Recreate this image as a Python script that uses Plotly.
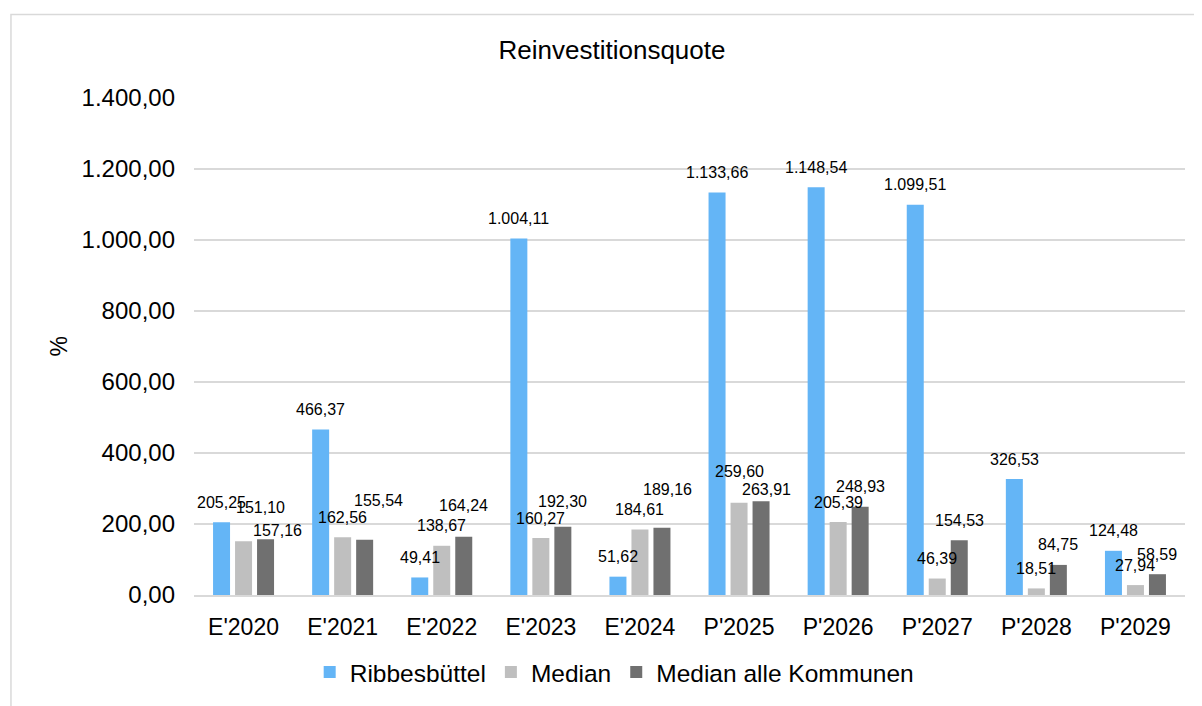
import plotly.graph_objects as go

categories = ["E'2020", "E'2021", "E'2022", "E'2023", "E'2024",
              "P'2025", "P'2026", "P'2027", "P'2028", "P'2029"]
ribbesbuettel = [205.25, 466.37, 49.41, 1004.11, 51.62, 1133.66, 1148.54, 1099.51, 326.53, 124.48]
median = [151.10, 162.56, 138.67, 160.27, 184.61, 259.60, 205.39, 46.39, 18.51, 27.94]
median_alle = [157.16, 155.54, 164.24, 192.30, 189.16, 263.91, 248.93, 154.53, 84.75, 58.59]

series_names = ["Ribbesbüttel", "Median", "Median alle Kommunen"]
series_values = [ribbesbuettel, median, median_alle]
colors = ["#64B5F6", "#BFBFBF", "#707070"]

FONT = "Liberation Sans, Arial, sans-serif"

# label placement tweaks (pixels) in the style of the original: (category idx, series idx) -> (dx, up)
label_default = (0, 20)
label_tweaks = {
    (0, 1): (16.5, 34), (0, 2): (11.5, 9),
    (1, 2): (14, 39.5),
    (2, 2): (0, 31.5),
    (3, 2): (0, 25.5),
    (4, 2): (5.5, 38.5),
    (5, 1): (0, 31.5), (5, 2): (5.5, 12),
}
slot_px = 22

W, H = 1194, 698  # page body adds an 8px margin


def de(v):
    s = f"{v:,.2f}"
    return s.replace(",", "X").replace(".", ",").replace("X", ".")


fig = go.Figure()
for name, vals, col in zip(series_names, series_values, colors):
    fig.add_trace(go.Bar(x=categories, y=vals, name=name, marker_color=col,
                         marker_line_width=0))

annotations = []
for si, vals in enumerate(series_values):
    for ci, (cat, v) in enumerate(zip(categories, vals)):
        dx, up = label_tweaks.get((ci, si), label_default)
        annotations.append(dict(
            x=cat, y=v, xref="x", yref="y", text=de(v), showarrow=False,
            xanchor="center", yanchor="middle",
            xshift=(si - 1) * slot_px + dx, yshift=up,
            font=dict(family=FONT, size=16, color="#000000")))

annotations.append(dict(
    x=-0.1372, y=0.5, xref="paper", yref="paper", text="%", textangle=-90,
    showarrow=False, xanchor="center", yanchor="middle",
    font=dict(family=FONT, size=23, color="#000000")))

fig.update_layout(
    width=W, height=H,
    margin=dict(l=186, r=17, t=90, b=100),
    paper_bgcolor="white", plot_bgcolor="white",
    separators=",.",
    barmode="group", bargap=0.334, bargroupgap=0.227,
    title=dict(text="Reinvestitionsquote", x=604 / W, xanchor="center",
               y=1 - 42 / H, yanchor="middle",
               font=dict(family=FONT, size=26, color="#000000")),
    font=dict(family=FONT, color="#000000"),
    annotations=annotations,
    legend=dict(orientation="h", x=0.424, xanchor="center", y=-0.155, yanchor="middle",
                font=dict(family=FONT, size=24.5, color="#000000"),
                itemclick=False, traceorder="normal"),
    shapes=[dict(type="rect", xref="paper", yref="paper",
                 x0=-0.1847, x1=1.05, y0=-0.3, y1=1.168,
                 line=dict(color="#D9D9D9", width=1.5), layer="below")],
)

fig.update_yaxes(range=[0, 1400], tickvals=list(range(0, 1401, 200)), tickformat=",.2f",
                 showgrid=True, gridcolor="#D9D9D9", gridwidth=1.5,
                 zeroline=False, showline=False, ticks="", ticklabelstandoff=18,
                 tickfont=dict(family=FONT, size=24, color="#000000"))
fig.update_xaxes(showgrid=False, showline=True, linecolor="#D9D9D9", linewidth=1.5,
                 ticks="", ticklabelstandoff=11,
                 tickfont=dict(family=FONT, size=23, color="#000000"))

fig.write_html("out.html")
